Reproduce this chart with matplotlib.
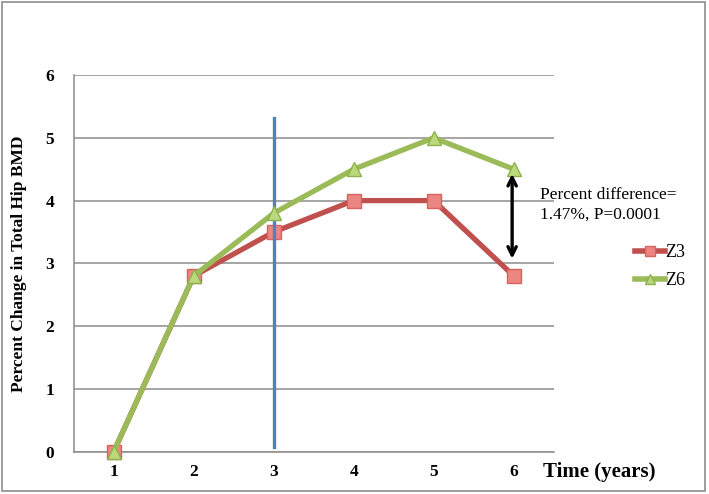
import matplotlib
matplotlib.use("Agg")
import matplotlib.pyplot as plt
from matplotlib.lines import Line2D
from matplotlib.patches import Rectangle

years = [1, 2, 3, 4, 5, 6]
z3 = [0, 2.8, 3.5, 4.0, 4.0, 2.8]
z6 = [0, 2.8, 3.8, 4.5, 5.0, 4.5]
yticks = [0, 1, 2, 3, 4, 5, 6]
serif = ["Liberation Serif", "DejaVu Serif"]

fig = plt.figure(figsize=(7.09, 4.94), dpi=100)
ax = fig.add_axes([0.104, 0.0856, 0.677, 0.7625])

red_line, red_fill = "#C0504D", "#EC8683"
green_line, green_fill = "#9BBB59", "#B9D97C"
blue = "#4F81BD"

ax.plot(years, z3, color=red_line, lw=3.8, marker="s", ms=10.5,
        mfc=red_fill, mec="#D8625F", mew=1, zorder=3, clip_on=False)
ax.plot([3, 3], [0.08, 5.32], color=blue, lw=2.4, zorder=3.5)
ax.plot(years, z6, color=green_line, lw=3.8, marker="^", ms=10.5,
        mfc=green_fill, mec="#8FB04C", mew=1, zorder=4, clip_on=False)

ax.annotate("", xy=(5.98, 3.03), xytext=(5.98, 4.47),
            arrowprops=dict(arrowstyle="<->", color="black", lw=2.4,
                            mutation_scale=15), zorder=5)

ax.set_xlim(0.5, 6.5)
ax.set_ylim(0, 6)
ax.set_xticks(years)
ax.set_xticklabels([str(y) for y in years], fontfamily=serif,
                   fontweight="bold", fontsize=12.5)
ax.set_yticks(yticks)
ax.set_yticklabels([str(y) for y in yticks], fontfamily=serif,
                   fontweight="bold", fontsize=12.5)
ax.tick_params(length=0, pad=9)
ax.tick_params(axis="y", pad=14)
ax.grid(axis="y", color="#8C8C8C", lw=1.1)
ax.set_axisbelow(True)
for s in ["top", "right"]:
    ax.spines[s].set_visible(False)
for s in ["left", "bottom"]:
    ax.spines[s].set_color("#8C8C8C")
    ax.spines[s].set_linewidth(1.1)

ax.set_ylabel("Percent Change in Total Hip BMD", fontfamily=serif,
              fontweight="bold", fontsize=12.5, labelpad=13)

fig.text(0.766, 0.045, "Time (years)", fontfamily=serif, fontweight="bold",
         fontsize=15, ha="left", va="center")

fig.text(0.762, 0.585, "Percent difference=\n1.47%, P=0.0001",
         fontfamily=serif, fontsize=12.5, ha="left", va="center",
         linespacing=1.3)

handles = [
    Line2D([], [], color=red_line, lw=4, marker="s", ms=7.5,
           mfc=red_fill, mec="#D8625F"),
    Line2D([], [], color=green_line, lw=4, marker="^", ms=7.5,
           mfc=green_fill, mec="#8FB04C"),
]
fig.legend(handles, ["Z3", "Z6"], loc="center left",
           bbox_to_anchor=(0.885, 0.46), frameon=False,
           prop={"family": serif, "size": 13}, handlelength=1.7,
           handletextpad=0.0, labelspacing=0.6, borderaxespad=0)

fig.add_artist(Rectangle((0.003, 0.006), 0.992, 0.99, transform=fig.transFigure,
                         fill=False, edgecolor="#8C8C8C", lw=1.2))

fig.savefig("out.png", dpi=100)
